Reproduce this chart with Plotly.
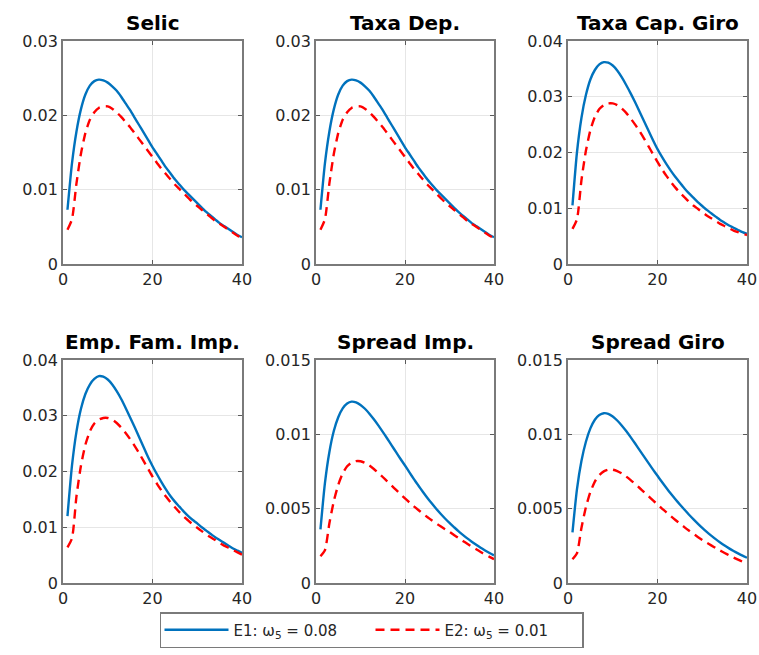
import plotly.graph_objects as go

periods = list(range(1, 41))

titles = ["Selic", "Taxa Dep.", "Taxa Cap. Giro", "Emp. Fam. Imp.", "Spread Imp.", "Spread Giro"]

selic_e1 = [0.0073,0.0135,0.0178,0.0208,0.0228,0.0240,0.0246,0.0248,0.0247,0.0244,
            0.0239,0.0233,0.0225,0.0216,0.0207,0.0197,0.0187,0.0177,0.0167,0.0157,
            0.0148,0.0139,0.0130,0.0122,0.0114,0.0107,0.0100,0.0094,0.0088,0.0082,
            0.0076,0.0070,0.0065,0.0060,0.0055,0.0051,0.0047,0.0043,0.0039,0.0036]
selic_e2 = [0.0046,0.0060,0.0108,0.0148,0.0176,0.0194,0.0204,0.0210,0.0212,0.0212,
            0.0209,0.0204,0.0198,0.0191,0.0184,0.0176,0.0168,0.0160,0.0152,0.0144,
            0.0136,0.0128,0.0121,0.0114,0.0107,0.0101,0.0095,0.0089,0.0083,0.0078,
            0.0073,0.0068,0.0063,0.0058,0.0054,0.0050,0.0046,0.0042,0.0038,0.0035]

dep_e1 = [0.0073,0.0135,0.0178,0.0208,0.0228,0.0240,0.0246,0.0248,0.0247,0.0244,
          0.0239,0.0233,0.0225,0.0216,0.0207,0.0197,0.0187,0.0177,0.0167,0.0157,
          0.0148,0.0139,0.0130,0.0122,0.0114,0.0107,0.0100,0.0094,0.0088,0.0082,
          0.0076,0.0070,0.0065,0.0060,0.0055,0.0051,0.0047,0.0043,0.0039,0.0036]
dep_e2 = [0.0046,0.0060,0.0108,0.0148,0.0176,0.0194,0.0204,0.0210,0.0212,0.0212,
          0.0209,0.0204,0.0198,0.0191,0.0184,0.0176,0.0168,0.0160,0.0152,0.0144,
          0.0136,0.0128,0.0121,0.0114,0.0107,0.0101,0.0095,0.0089,0.0083,0.0078,
          0.0073,0.0068,0.0063,0.0058,0.0054,0.0050,0.0046,0.0042,0.0038,0.0035]

giro_e1 = [0.0105,0.0200,0.0262,0.0303,0.0331,0.0348,0.0358,0.0362,0.0361,0.0356,
           0.0347,0.0335,0.0321,0.0306,0.0290,0.0273,0.0256,0.0239,0.0222,0.0206,
           0.0192,0.0179,0.0167,0.0156,0.0146,0.0136,0.0127,0.0119,0.0111,0.0104,
           0.0097,0.0091,0.0085,0.0079,0.0074,0.0069,0.0065,0.0061,0.0057,0.0054]
giro_e2 = [0.0063,0.0080,0.0150,0.0203,0.0240,0.0264,0.0278,0.0285,0.0288,0.0288,
           0.0285,0.0279,0.0271,0.0261,0.0250,0.0238,0.0225,0.0211,0.0197,0.0183,
           0.0170,0.0158,0.0147,0.0137,0.0128,0.0120,0.0112,0.0105,0.0099,0.0093,
           0.0087,0.0082,0.0077,0.0072,0.0068,0.0064,0.0060,0.0057,0.0054,0.0052]

fam_e1 = [0.0120,0.0210,0.0271,0.0312,0.0339,0.0356,0.0366,0.0371,0.0370,0.0365,
          0.0356,0.0344,0.0330,0.0314,0.0297,0.0280,0.0262,0.0244,0.0226,0.0210,
          0.0195,0.0181,0.0168,0.0156,0.0146,0.0137,0.0128,0.0120,0.0113,0.0107,
          0.0100,0.0094,0.0088,0.0082,0.0077,0.0072,0.0067,0.0062,0.0058,0.0054]
fam_e2 = [0.0064,0.0080,0.0155,0.0210,0.0248,0.0272,0.0286,0.0293,0.0296,0.0296,
          0.0293,0.0287,0.0279,0.0269,0.0258,0.0246,0.0233,0.0219,0.0205,0.0191,
          0.0178,0.0166,0.0155,0.0145,0.0136,0.0127,0.0119,0.0112,0.0105,0.0099,
          0.0093,0.0087,0.0082,0.0077,0.0072,0.0067,0.0063,0.0059,0.0055,0.0051]

simp_e1 = [0.00360,0.00670,0.00880,0.01022,0.01115,0.01175,0.01208,0.01220,0.01215,0.01198,
           0.01172,0.01139,0.01101,0.01060,0.01017,0.00972,0.00926,0.00880,0.00834,0.00790,
           0.00744,0.00699,0.00656,0.00614,0.00574,0.00536,0.00500,0.00466,0.00434,0.00404,
           0.00376,0.00349,0.00324,0.00300,0.00278,0.00257,0.00237,0.00219,0.00202,0.00186]
simp_e2 = [0.00180,0.00220,0.00400,0.00550,0.00660,0.00738,0.00785,0.00810,0.00820,0.00819,
           0.00808,0.00790,0.00767,0.00741,0.00713,0.00684,0.00655,0.00626,0.00597,0.00569,
           0.00542,0.00516,0.00491,0.00467,0.00444,0.00422,0.00401,0.00381,0.00362,0.00344,
           0.00323,0.00303,0.00283,0.00264,0.00245,0.00227,0.00209,0.00192,0.00176,0.00160]

sgiro_e1 = [0.00340,0.00630,0.00820,0.00950,0.01040,0.01098,0.01130,0.01142,0.01138,0.01120,
            0.01093,0.01060,0.01022,0.00981,0.00938,0.00894,0.00850,0.00806,0.00763,0.00721,
            0.00679,0.00639,0.00600,0.00563,0.00528,0.00494,0.00461,0.00430,0.00400,0.00371,
            0.00344,0.00319,0.00295,0.00273,0.00252,0.00233,0.00215,0.00199,0.00184,0.00170]
sgiro_e2 = [0.00160,0.00200,0.00370,0.00510,0.00612,0.00682,0.00726,0.00751,0.00762,0.00762,
            0.00753,0.00737,0.00716,0.00692,0.00666,0.00639,0.00611,0.00583,0.00555,0.00528,
            0.00501,0.00475,0.00449,0.00424,0.00400,0.00376,0.00353,0.00331,0.00310,0.00290,
            0.00271,0.00253,0.00235,0.00218,0.00202,0.00186,0.00171,0.00157,0.00143,0.00130]

e1_series = [selic_e1, dep_e1, giro_e1, fam_e1, simp_e1, sgiro_e1]
e2_series = [selic_e2, dep_e2, giro_e2, fam_e2, simp_e2, sgiro_e2]

y_ticks = [
    [0, 0.01, 0.02, 0.03],
    [0, 0.01, 0.02, 0.03],
    [0, 0.01, 0.02, 0.03, 0.04],
    [0, 0.01, 0.02, 0.03, 0.04],
    [0, 0.005, 0.01, 0.015],
    [0, 0.005, 0.01, 0.015],
]
y_ticktext = [
    ["0", "0.01", "0.02", "0.03"],
    ["0", "0.01", "0.02", "0.03"],
    ["0", "0.01", "0.02", "0.03", "0.04"],
    ["0", "0.01", "0.02", "0.03", "0.04"],
    ["0", "0.005", "0.01", "0.015"],
    ["0", "0.005", "0.01", "0.015"],
]
x_ticks = [0, 20, 40]
x_ticktext = ["0", "20", "40"]

legend_names = ["E1: ω<sub>5</sub> = 0.08", "E2: ω<sub>5</sub> = 0.01"]

# the page margin is removed in the written page, so the figure fills the window
W, H = 759, 655
col_px = [(63, 242), (316, 494), (568, 747)]
row_px = [(41, 264), (360, 583)]

FONT = "DejaVu Sans, Arial, sans-serif"
TXT = "#262626"
BLUE = "#0072BD"
RED = "#FF0000"

fig = go.Figure()
annotations = []
for i in range(6):
    r, c = divmod(i, 3)
    k = "" if i == 0 else str(i + 1)
    xa, ya = "x" + k, "y" + k
    fig.add_trace(go.Scatter(x=periods, y=e1_series[i], mode="lines", xaxis=xa, yaxis=ya,
                             line=dict(color=BLUE, width=2.4, shape="spline", smoothing=0.6),
                             name=legend_names[0], legendgroup="e1", showlegend=(i == 0)))
    fig.add_trace(go.Scatter(x=periods, y=e2_series[i], mode="lines", xaxis=xa, yaxis=ya,
                             line=dict(color=RED, width=2.4, dash="9px,6px", shape="spline", smoothing=0.6),
                             name=legend_names[1], legendgroup="e2", showlegend=(i == 0)))
    x0, x1 = col_px[c]
    yt, yb = row_px[r]
    xdom = [x0 / W, x1 / W]
    ydom = [1 - yb / H, 1 - yt / H]
    common = dict(showline=True, linecolor="#7a7a7a", linewidth=1.8, mirror="ticks",
                  ticks="inside", ticklen=4, tickcolor="#5a5a5a", automargin=False,
                  showgrid=True, gridcolor="#e6e6e6", gridwidth=1, zeroline=False,
                  tickfont=dict(family=FONT, size=16, color=TXT))
    fig.layout["xaxis" + k] = dict(domain=xdom, range=[0, 40], anchor=ya,
                                   tickvals=x_ticks, ticktext=x_ticktext, **common)
    fig.layout["yaxis" + k] = dict(domain=ydom, range=[0, y_ticks[i][-1]], anchor=xa,
                                   tickvals=y_ticks[i], ticktext=y_ticktext[i], **common)
    annotations.append(dict(text="<b>" + titles[i] + "</b>", x=(xdom[0] + xdom[1]) / 2,
                            y=ydom[1], xref="paper", yref="paper", xanchor="center",
                            yanchor="bottom", yshift=4, showarrow=False,
                            font=dict(family=FONT, size=20, color="#000000")))

fig.update_layout(
    template="none",
    width=W, height=H,
    margin=dict(l=0, r=0, t=0, b=0, autoexpand=False),
    paper_bgcolor="white", plot_bgcolor="white",
    annotations=annotations,
    showlegend=True,
    hovermode=False,
    legend=dict(orientation="h", x=371.5 / W, xanchor="center", y=1 - 612 / H,
                yanchor="top", bordercolor="#7a7a7a", borderwidth=1.5, bgcolor="white",
                font=dict(family=FONT, size=15, color=TXT), itemwidth=64,
                entrywidth=132, tracegroupgap=0),
)

fig.write_html("out.html",
               config={"displayModeBar": False},
               post_script="document.body.style.margin='0px';document.body.style.overflow='hidden';")
